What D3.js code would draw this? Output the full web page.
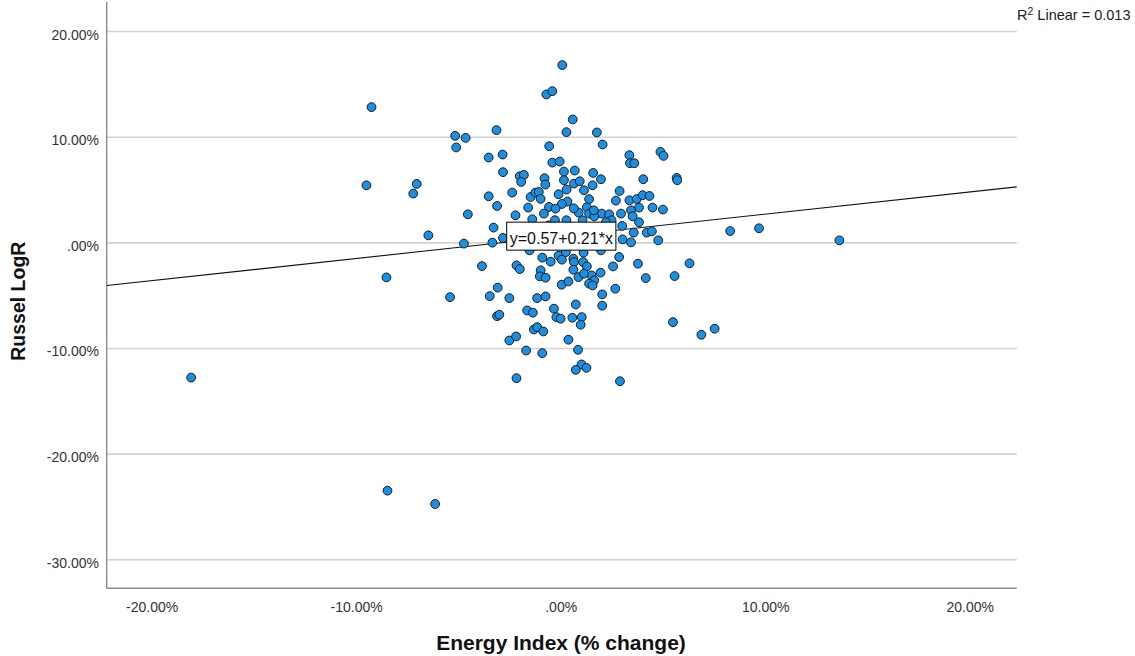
<!DOCTYPE html>
<html>
<head>
<meta charset="utf-8">
<script src="https://cdn.jsdelivr.net/npm/d3@7"></script>
<style>
  html, body { margin: 0; padding: 0; background: #fff; }
  svg { display: block; }
  text { font-family: "Liberation Sans", Arial, sans-serif; }
</style>
</head>
<body>
<svg id="chart" width="1135" height="656"></svg>
<script>
// ---- data (percent units) ----
const energyChange = [
 -18.07,-9.25,-9.50,-7.04,-7.21,-6.47,-8.52,-8.47,-6.14,13.63,9.70,8.29,6.88,7.53,5.49,6.30,5.57,4.16,2.90,-2.16,
 0.08,-0.70,-0.41,0.59,0.28,1.77,2.05,-5.16,-4.65,-5.11,-3.14,-0.56,-3.52,-2.84,-0.41,-0.05,3.36,3.39,3.60,4.88,
 5.03,-2.82,-2.00,-1.80,-1.93,0.16,0.69,-0.79,1.59,1.97,5.67,5.70,4.04,-3.52,-2.37,-0.75,0.16,0.65,0.93,1.56,
 1.14,-0.10,0.29,-1.47,-1.23,-1.07,-3.11,-4.54,-1.59,2.88,2.70,3.36,3.72,4.01,4.34,3.83,4.49,5.00,1.39,1.28,
 0.33,0.06,-0.57,-0.25,-0.82,0.88,1.39,2.01,2.37,2.95,3.44,3.52,-3.28,-4.73,-3.34,-2.82,-1.39,-0.28,0.28,1.07,
 1.64,2.49,3.01,3.83,3.57,4.21,4.46,3.03,3.44,4.77,-3.85,-2.16,-2.00,-0.90,-0.49,-0.10,0.06,0.62,0.65,1.12,
 1.10,1.28,2.86,2.56,3.78,-0.98,-1.02,-0.74,0.62,0.87,1.51,1.95,1.64,1.39,1.56,0.05,0.38,-3.08,2.67,-5.41,
 -3.47,-2.51,-1.15,-0.74,2.03,0.74,2.03,-3.11,-3.00,-1.64,-1.36,-0.33,-0.21,0.00,0.57,1.03,0.98,-1.31,-1.15,-0.85,
 -2.51,-2.18,-1.69,-0.90,0.38,0.85,1.02,0.74,1.26,1.14,-0.98,0.64,1.62,2.21,-0.59,0.74,1.77,0.00,1.23,-0.74,
 0.29,1.97,-1.52,2.46,-2.21,-1.82,0.25
];
const russelLogR = [
 -12.80,12.80,5.40,5.53,4.62,0.66,-3.32,-23.51,-24.77,0.19,1.33,1.07,-8.75,-8.18,-7.55,-1.99,-3.19,-3.38,-13.15,-12.86,
 16.78,14.00,14.31,11.63,10.43,10.40,9.26,10.08,9.89,8.98,10.62,9.10,8.03,8.31,7.55,7.65,8.25,7.49,7.49,8.56,
 8.18,6.64,6.26,6.38,5.72,6.70,6.80,6.07,6.57,5.97,6.10,5.88,5.97,4.36,4.71,5.47,5.88,5.56,5.78,5.40,
 4.93,4.55,5.00,4.29,4.71,4.77,3.44,2.65,3.29,4.86,3.95,3.98,4.10,4.46,4.39,3.29,3.29,3.10,4.08,3.32,
 3.86,3.63,3.35,3.19,2.72,2.82,2.72,2.72,2.65,2.72,3.03,2.46,1.39,-0.12,-0.03,0.41,2.18,2.09,2.09,2.09,
 2.46,2.09,1.55,1.90,0.92,0.92,1.04,0.28,0.00,0.19,-2.25,-2.18,-2.53,-1.45,-1.83,-1.26,-1.64,-1.55,-1.87,-0.98,
 -1.87,-2.28,-1.39,-2.28,-2.02,-2.65,-3.22,-3.35,-2.59,-3.29,-3.13,-2.87,-3.60,-3.91,-4.08,-4.01,-3.70,-4.29,-4.39,-5.19,
 -5.09,-5.28,-5.28,-5.12,-4.93,-5.88,-6.00,-6.99,-6.85,-6.45,-6.66,-6.28,-7.08,-7.23,-7.14,-7.08,-7.80,-8.25,-8.03,-8.44,
 -9.29,-8.91,-10.24,-10.49,-9.22,-10.17,-11.56,-12.07,-11.88,-2.97,4.11,3.22,3.03,1.90,1.61,1.33,1.23,0.95,0.38,0.19,
 -0.38,-0.76,-0.76,-0.09,2.56,1.33,-0.92
];
const xTicks = [-20, -10, 0, 10, 20];
const yTicks = [20, 10, 0, -10, -20, -30];
const xDomain = [-22.2, 22.3];
const yDomain = [-32.75, 22.75];
const fitIntercept = 0.57;
const fitSlope = 0.21;
const rSquared = 0.013;
const eqLabelAnchor = [-2.64, 1.91]; // data coords of label box top-left

// ---- layout ----
const svg = d3.select("#chart");
const plotL = 106.7, plotR = 1016.7, plotT = 2, plotB = 588.3;
const x = d3.scaleLinear().domain(xDomain).range([plotL, plotR]);
const y = d3.scaleLinear().domain(yDomain).range([plotB, plotT]);
const fmt = d => d === 0 ? ".00%" : d.toFixed(2) + "%";

// gridlines
svg.append("g")
  .attr("transform", `translate(${plotL},0)`)
  .call(d3.axisLeft(y).tickValues(yTicks).tickSize(-(plotR - plotL)).tickFormat(""))
  .call(g => g.select(".domain").remove())
  .call(g => g.selectAll("line").attr("stroke", "#d2d2d2").attr("stroke-width", 1.6));

// axes lines
svg.append("line").attr("x1", plotL).attr("x2", plotL).attr("y1", plotT).attr("y2", plotB)
  .attr("stroke", "#8c8c8c").attr("stroke-width", 1.4);
svg.append("line").attr("x1", plotL).attr("x2", plotR).attr("y1", plotB).attr("y2", plotB)
  .attr("stroke", "#8c8c8c").attr("stroke-width", 1.4);

// y tick labels
svg.append("g")
  .attr("transform", `translate(${plotL},0)`)
  .call(d3.axisLeft(y).tickValues(yTicks).tickSize(0).tickPadding(7.7).tickFormat(fmt))
  .call(g => g.select(".domain").remove())
  .call(g => g.selectAll("text")
    .attr("dy", 0).attr("y", 8)
    .attr("fill", "#333").style("font-size", "14px")
    .style("font-family", '"Liberation Sans", Arial, sans-serif'));

// x tick labels
svg.append("g")
  .attr("transform", `translate(0,${plotB})`)
  .call(d3.axisBottom(x).tickValues(xTicks).tickSize(0).tickFormat(fmt))
  .call(g => g.select(".domain").remove())
  .call(g => g.selectAll("text")
    .attr("dy", 0).attr("y", 23.4)
    .attr("fill", "#333").style("font-size", "14px")
    .style("font-family", '"Liberation Sans", Arial, sans-serif'));

// fit line
const fit = v => fitIntercept + fitSlope * v;
svg.append("line")
  .attr("x1", x(xDomain[0])).attr("y1", y(fit(xDomain[0])))
  .attr("x2", x(xDomain[1])).attr("y2", y(fit(xDomain[1])))
  .attr("stroke", "#111").attr("stroke-width", 1.1);

// points
const pts = energyChange.map((v, i) => ({ x: v, y: russelLogR[i] }));
svg.append("g").selectAll("circle").data(pts).join("circle")
  .attr("cx", d => x(d.x)).attr("cy", d => y(d.y)).attr("r", 4.4)
  .attr("fill", "#1a8fe3").attr("stroke", "#1b1b1b").attr("stroke-width", 1);

// equation label
const eqG = svg.append("g");
const bx = x(eqLabelAnchor[0]), by = y(eqLabelAnchor[1]);
const eqRect = eqG.append("rect").attr("fill", "#fff").attr("stroke", "#000").attr("stroke-width", 1);
const eqText = eqG.append("text")
  .attr("x", bx + 3).attr("y", by + 22)
  .style("font-size", "16px").attr("fill", "#111")
  .text(`y=${fitIntercept.toFixed(2)}+${fitSlope.toFixed(2)}*x`);
const bb = eqText.node().getBBox();
eqRect.attr("x", bx).attr("y", by).attr("width", bb.width + 6).attr("height", 28);

// R2 label
const r2 = svg.append("text").attr("x", 1017).attr("y", 20).style("font-size", "14.5px").attr("fill", "#222");
r2.append("tspan").text("R");
r2.append("tspan").text("2").attr("dy", -5).style("font-size", "10.5px");
r2.append("tspan").text(` Linear = ${rSquared.toFixed(3)}`).attr("dy", 5);

// axis titles
svg.append("text")
  .attr("transform", `translate(25,${(plotT + plotB) / 2 + 6}) rotate(-90)`)
  .attr("text-anchor", "middle")
  .style("font-size", "19.5px").style("font-weight", "bold").attr("fill", "#111")
  .text("Russel LogR");
svg.append("text")
  .attr("x", 561).attr("y", 649.5).attr("text-anchor", "middle")
  .style("font-size", "21px").style("font-weight", "bold").attr("fill", "#111")
  .text("Energy Index (% change)");
</script>
</body>
</html>
